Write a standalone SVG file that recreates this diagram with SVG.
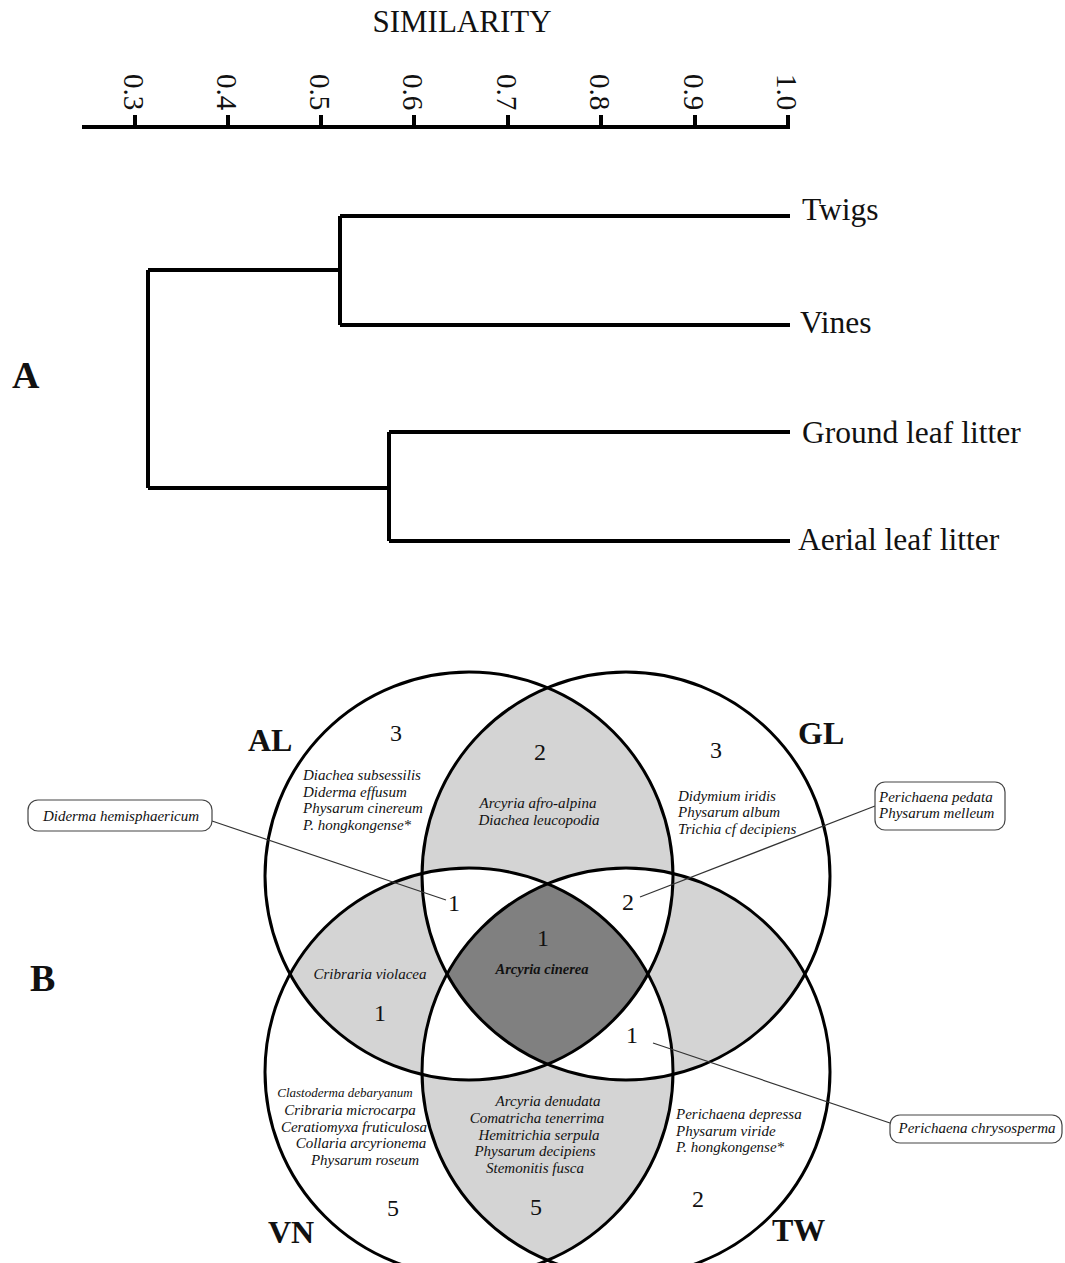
<svg xmlns="http://www.w3.org/2000/svg" width="1065" height="1263" viewBox="0 0 1065 1263">
<style>
text{font-family:"Liberation Serif","Times New Roman",serif;fill:#111}
.ttl{font-size:31px}
.tick{font-size:29px}
.leaf{font-size:31.5px}
.big{font-size:38px;font-weight:bold}
.set{font-size:32px;font-weight:bold}
.num{font-size:24px;text-anchor:middle}
.sp{font-size:15px;font-style:italic}
.spm{font-size:15px;font-style:italic;text-anchor:middle}
.den{fill:none;stroke:#000;stroke-width:4}
.ring{fill:none;stroke:#000;stroke-width:3}
.lead{fill:none;stroke:#333;stroke-width:1.2}
.box{fill:#fff;stroke:#444;stroke-width:1.2}
</style>
<defs>
<clipPath id="cAL"><circle cx="469" cy="876" r="204"/></clipPath>
<clipPath id="cGL"><circle cx="626" cy="876" r="204"/></clipPath>
<clipPath id="cVN"><circle cx="469" cy="1072" r="204"/></clipPath>
<clipPath id="cTW"><circle cx="626" cy="1072" r="204"/></clipPath>
</defs>
<rect width="1065" height="1263" fill="#fff"/>

<!-- Panel A: dendrogram -->
<g id="axis">
<text class="ttl" x="462" y="32" text-anchor="middle">SIMILARITY</text>
<path class="den" d="M82 127H790M135 127V115M228 127V115M321 127V115M414 127V115M508 127V115M601 127V115M695 127V115M788 127V115" stroke-width="3.5"/>
<g class="tick">
<text transform="translate(124,74) rotate(90)">0.3</text>
<text transform="translate(217,74) rotate(90)">0.4</text>
<text transform="translate(310,74) rotate(90)">0.5</text>
<text transform="translate(403,74) rotate(90)">0.6</text>
<text transform="translate(497,74) rotate(90)">0.7</text>
<text transform="translate(590,74) rotate(90)">0.8</text>
<text transform="translate(684,74) rotate(90)">0.9</text>
<text transform="translate(777,74) rotate(90)">1.0</text>
</g>
</g>
<g id="connectors-dendrogram">
<path class="den" d="M340 216H790M340 325H790M340 216V325M148 270H340M389 432H790M389 541H790M389 432V541M148 488H389M148 270V488"/>
</g>
<g id="leaf-twigs"><text class="leaf" x="802" y="220">Twigs</text></g>
<g id="leaf-vines"><text class="leaf" x="800" y="333">Vines</text></g>
<g id="leaf-ground"><text class="leaf" x="802" y="443">Ground leaf litter</text></g>
<g id="leaf-aerial"><text class="leaf" x="798" y="550">Aerial leaf litter</text></g>
<g id="label-A"><text class="big" x="12" y="388">A</text></g>

<!-- Panel B: Venn -->
<g id="venn-shading">
<g clip-path="url(#cAL)"><circle cx="626" cy="876" r="204" fill="#d4d4d4"/><circle cx="469" cy="1072" r="204" fill="#d4d4d4"/></g>
<g clip-path="url(#cTW)"><circle cx="626" cy="876" r="204" fill="#d4d4d4"/><circle cx="469" cy="1072" r="204" fill="#d4d4d4"/></g>
<g clip-path="url(#cAL)"><g clip-path="url(#cGL)"><circle cx="469" cy="1072" r="204" fill="#fff"/><circle cx="626" cy="1072" r="204" fill="#fff"/></g></g>
<g clip-path="url(#cVN)"><g clip-path="url(#cTW)"><circle cx="469" cy="876" r="204" fill="#fff"/><circle cx="626" cy="876" r="204" fill="#fff"/></g></g>
<g clip-path="url(#cAL)"><g clip-path="url(#cGL)"><g clip-path="url(#cVN)"><circle cx="626" cy="1072" r="204" fill="#808080"/></g></g></g>
</g>
<g id="set-AL"><circle class="ring" cx="469" cy="876" r="204"/><text class="set" x="248" y="751">AL</text></g>
<g id="set-GL"><circle class="ring" cx="626" cy="876" r="204"/><text class="set" x="798" y="744">GL</text></g>
<g id="set-VN"><circle class="ring" cx="469" cy="1072" r="204"/><text class="set" x="268" y="1243">VN</text></g>
<g id="set-TW"><circle class="ring" cx="626" cy="1072" r="204"/><text class="set" x="772" y="1241">TW</text></g>
<g id="label-B"><text class="big" x="30" y="991">B</text></g>

<g id="connectors">
<path class="lead" d="M212 821L446 900"/>
<path class="lead" d="M875 806L640 897"/>
<path class="lead" d="M890 1123L653 1043"/>
</g>

<g id="region-AL-only">
<text class="num" x="396" y="741">3</text>
<text class="sp" x="303" y="780">Diachea subsessilis</text>
<text class="sp" x="303" y="797">Diderma effusum</text>
<text class="sp" x="303" y="813">Physarum cinereum</text>
<text class="sp" x="303" y="830">P. hongkongense*</text>
</g>
<g id="region-AL-GL">
<text class="num" x="540" y="760">2</text>
<text class="spm" x="538" y="808">Arcyria afro-alpina</text>
<text class="spm" x="539" y="825">Diachea leucopodia</text>
</g>
<g id="region-GL-only">
<text class="num" x="716" y="758">3</text>
<text class="sp" x="678" y="801">Didymium iridis</text>
<text class="sp" x="678" y="817">Physarum album</text>
<text class="sp" x="678" y="834">Trichia cf decipiens</text>
</g>
<g id="region-AL-GL-VN"><text class="num" x="454" y="911">1</text></g>
<g id="region-AL-GL-TW"><text class="num" x="628" y="910">2</text></g>
<g id="region-all">
<text class="num" x="543" y="946">1</text>
<text x="542" y="974" text-anchor="middle" style="font-size:14.5px;font-style:italic;font-weight:bold">Arcyria cinerea</text>
</g>
<g id="region-AL-VN">
<text class="spm" x="370" y="979">Cribraria violacea</text>
<text class="num" x="380" y="1021">1</text>
</g>
<g id="region-GL-VN-TW"><text class="num" x="632" y="1043">1</text></g>
<g id="region-VN-only">
<text class="spm" x="345" y="1097" style="font-size:13px">Clastoderma debaryanum</text>
<text class="spm" x="350" y="1115">Cribraria microcarpa</text>
<text class="spm" x="354" y="1132">Ceratiomyxa fruticulosa</text>
<text class="spm" x="361" y="1148">Collaria arcyrionema</text>
<text class="spm" x="365" y="1165">Physarum roseum</text>
<text class="num" x="393" y="1216">5</text>
</g>
<g id="region-VN-TW">
<text class="spm" x="548" y="1106">Arcyria denudata</text>
<text class="spm" x="537" y="1123">Comatricha tenerrima</text>
<text class="spm" x="539" y="1140">Hemitrichia serpula</text>
<text class="spm" x="535" y="1156">Physarum decipiens</text>
<text class="spm" x="535" y="1173">Stemonitis fusca</text>
<text class="num" x="536" y="1215">5</text>
</g>
<g id="region-TW-only">
<text class="sp" x="676" y="1119">Perichaena depressa</text>
<text class="sp" x="676" y="1136">Physarum viride</text>
<text class="sp" x="676" y="1152">P. hongkongense*</text>
<text class="num" x="698" y="1207">2</text>
</g>

<g id="callout-diderma">
<rect class="box" x="28" y="800" width="184" height="31" rx="10"/>
<text class="spm" x="121" y="821">Diderma hemisphaericum</text>
</g>
<g id="callout-pedata">
<rect class="box" x="875" y="782" width="130" height="48" rx="10"/>
<text class="sp" x="879" y="802">Perichaena pedata</text>
<text class="sp" x="879" y="818">Physarum melleum</text>
</g>
<g id="callout-chrysosperma">
<rect class="box" x="890" y="1115" width="172" height="28" rx="10"/>
<text class="spm" x="977" y="1133">Perichaena chrysosperma</text>
</g>
</svg>
